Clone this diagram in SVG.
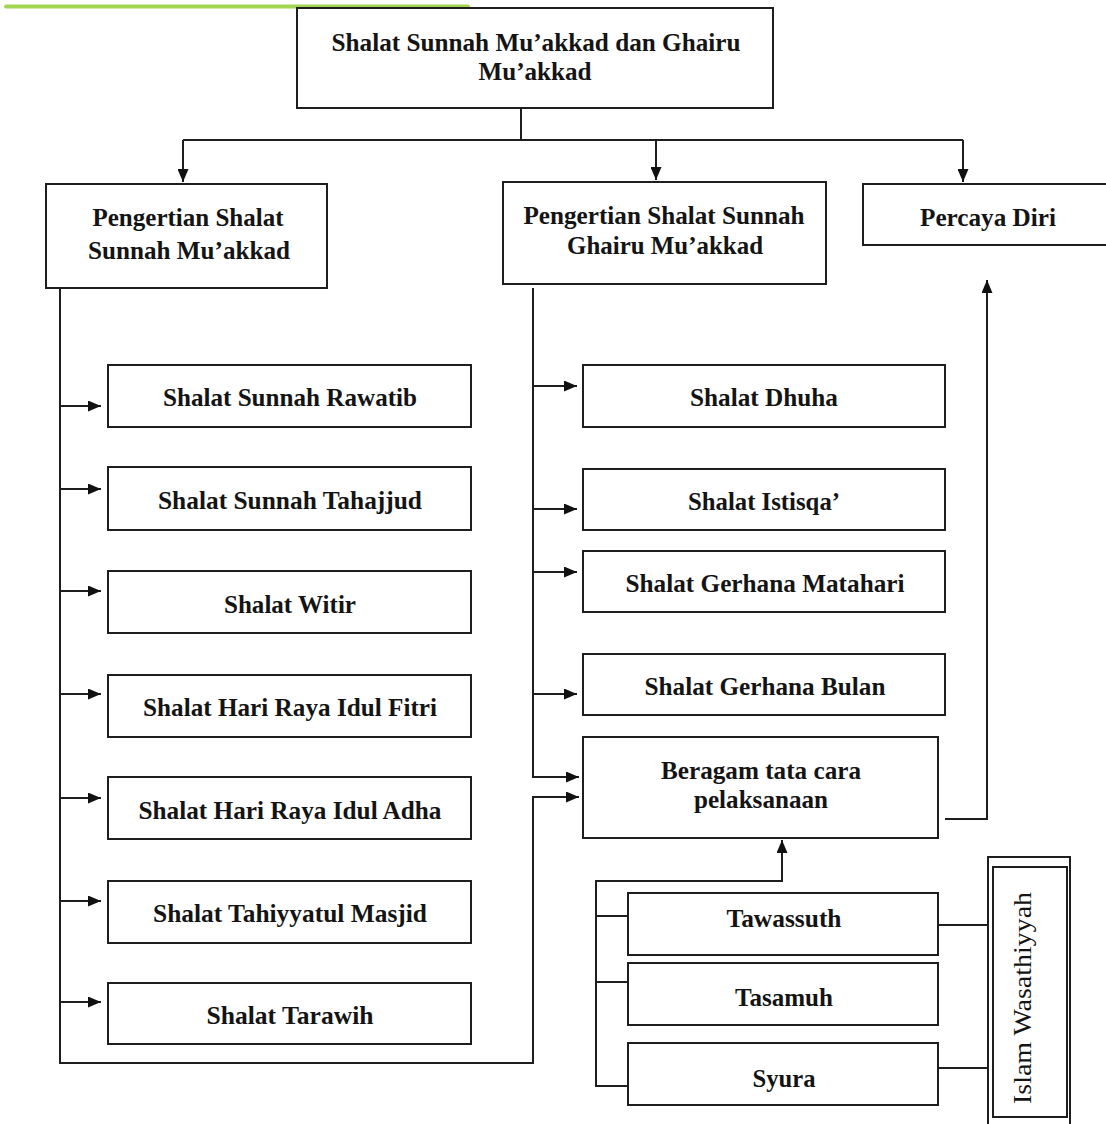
<svg xmlns="http://www.w3.org/2000/svg" width="1106" height="1124" viewBox="0 0 1106 1124">
<style>
.box{fill:#fff;stroke:#1e1e1e;stroke-width:2}
.t{font-family:"Liberation Serif","Times New Roman",serif;font-weight:bold;font-size:26px;fill:#141414;text-anchor:middle}
.r{font-family:"Liberation Serif","Times New Roman",serif;font-weight:normal;font-size:25px;fill:#141414;text-anchor:middle}
.c{fill:none;stroke:#1e1e1e;stroke-width:2}
</style>
<defs>
<marker id="ah" markerUnits="userSpaceOnUse" markerWidth="13" markerHeight="11" refX="13" refY="5.5" orient="auto">
<path d="M0,0 L13,5.5 L0,11 Z" fill="#111"/>
</marker>
</defs>
<rect width="1106" height="1124" fill="#fff"/>
<line x1="6" y1="6.5" x2="468" y2="6.5" stroke="#a2d651" stroke-width="4" stroke-linecap="round"/>

<g id="connectors">
<path class="c" d="M521,108 V140 M183,140 H963"/>
<path class="c" d="M183,140 V182" marker-end="url(#ah)"/>
<path class="c" d="M656,140 V180" marker-end="url(#ah)"/>
<path class="c" d="M963,140 V182" marker-end="url(#ah)"/>
<path class="c" d="M60,288 V1063 H533 V797 H579" marker-end="url(#ah)"/>
<path class="c" d="M60,406 H101" marker-end="url(#ah)"/>
<path class="c" d="M60,489 H101" marker-end="url(#ah)"/>
<path class="c" d="M60,591 H101" marker-end="url(#ah)"/>
<path class="c" d="M60,694 H101" marker-end="url(#ah)"/>
<path class="c" d="M60,798 H101" marker-end="url(#ah)"/>
<path class="c" d="M60,901 H101" marker-end="url(#ah)"/>
<path class="c" d="M60,1002 H101" marker-end="url(#ah)"/>
<path class="c" d="M533,288 V777 H579" marker-end="url(#ah)"/>
<path class="c" d="M533,386 H577" marker-end="url(#ah)"/>
<path class="c" d="M533,509 H577" marker-end="url(#ah)"/>
<path class="c" d="M533,572 H577" marker-end="url(#ah)"/>
<path class="c" d="M533,694 H577" marker-end="url(#ah)"/>
<path class="c" d="M945,819 H987 V280" marker-end="url(#ah)"/>
<path class="c" d="M628,1086 H596 V881 H782 V840" marker-end="url(#ah)"/>
<path class="c" d="M596,916 H628 M596,982 H628"/>
<path class="c" d="M938,925 H988 M938,1068 H988"/>
</g>

<g id="n-root">
<rect class="box" x="297" y="8" width="476" height="100"/>
<text class="t" x="536" y="51" textLength="409" lengthAdjust="spacingAndGlyphs">Shalat Sunnah Mu’akkad dan Ghairu</text>
<text class="t" x="535" y="80" textLength="113" lengthAdjust="spacingAndGlyphs">Mu’akkad</text>
</g>

<g id="n-pengertian-muakkad">
<rect class="box" x="46" y="184" width="281" height="104"/>
<text class="t" x="188" y="226" textLength="191" lengthAdjust="spacingAndGlyphs">Pengertian Shalat</text>
<text class="t" x="189" y="259" textLength="202" lengthAdjust="spacingAndGlyphs">Sunnah Mu’akkad</text>
</g>

<g id="n-pengertian-ghairu">
<rect class="box" x="503" y="182" width="323" height="102"/>
<text class="t" x="664" y="224" textLength="281" lengthAdjust="spacingAndGlyphs">Pengertian Shalat Sunnah</text>
<text class="t" x="665" y="254" textLength="196" lengthAdjust="spacingAndGlyphs">Ghairu Mu’akkad</text>
</g>

<g id="n-percaya-diri">
<rect class="box" x="863" y="184" width="260" height="61"/>
<text class="t" x="988" y="226" textLength="136" lengthAdjust="spacingAndGlyphs">Percaya Diri</text>
</g>

<g id="n-rawatib">
<rect class="box" x="108" y="365" width="363" height="62"/>
<text class="t" x="290" y="406" textLength="254" lengthAdjust="spacingAndGlyphs">Shalat Sunnah Rawatib</text>
</g>
<g id="n-tahajjud">
<rect class="box" x="108" y="467" width="363" height="63"/>
<text class="t" x="290" y="509" textLength="264" lengthAdjust="spacingAndGlyphs">Shalat Sunnah Tahajjud</text>
</g>
<g id="n-witir">
<rect class="box" x="108" y="571" width="363" height="62"/>
<text class="t" x="290" y="613" textLength="132" lengthAdjust="spacingAndGlyphs">Shalat Witir</text>
</g>
<g id="n-idul-fitri">
<rect class="box" x="108" y="675" width="363" height="62"/>
<text class="t" x="290" y="716" textLength="294" lengthAdjust="spacingAndGlyphs">Shalat Hari Raya Idul Fitri</text>
</g>
<g id="n-idul-adha">
<rect class="box" x="108" y="777" width="363" height="62"/>
<text class="t" x="290" y="819" textLength="303" lengthAdjust="spacingAndGlyphs">Shalat Hari Raya Idul Adha</text>
</g>
<g id="n-tahiyyatul">
<rect class="box" x="108" y="881" width="363" height="62"/>
<text class="t" x="290" y="922" textLength="274" lengthAdjust="spacingAndGlyphs">Shalat Tahiyyatul Masjid</text>
</g>
<g id="n-tarawih">
<rect class="box" x="108" y="983" width="363" height="61"/>
<text class="t" x="290" y="1024" textLength="167" lengthAdjust="spacingAndGlyphs">Shalat Tarawih</text>
</g>

<g id="n-dhuha">
<rect class="box" x="583" y="365" width="362" height="62"/>
<text class="t" x="764" y="406" textLength="148" lengthAdjust="spacingAndGlyphs">Shalat Dhuha</text>
</g>
<g id="n-istisqa">
<rect class="box" x="583" y="469" width="362" height="61"/>
<text class="t" x="764" y="510" textLength="152" lengthAdjust="spacingAndGlyphs">Shalat Istisqa’</text>
</g>
<g id="n-gerhana-matahari">
<rect class="box" x="583" y="551" width="362" height="61"/>
<text class="t" x="765" y="592" textLength="279" lengthAdjust="spacingAndGlyphs">Shalat Gerhana Matahari</text>
</g>
<g id="n-gerhana-bulan">
<rect class="box" x="583" y="654" width="362" height="61"/>
<text class="t" x="765" y="695" textLength="241" lengthAdjust="spacingAndGlyphs">Shalat Gerhana Bulan</text>
</g>
<g id="n-beragam">
<rect class="box" x="583" y="737" width="355" height="101"/>
<text class="t" x="761" y="779" textLength="200" lengthAdjust="spacingAndGlyphs">Beragam tata cara</text>
<text class="t" x="761" y="808" textLength="134" lengthAdjust="spacingAndGlyphs">pelaksanaan</text>
</g>

<g id="n-tawassuth">
<rect class="box" x="628" y="893" width="310" height="62"/>
<text class="t" x="784" y="927" textLength="115" lengthAdjust="spacingAndGlyphs">Tawassuth</text>
</g>
<g id="n-tasamuh">
<rect class="box" x="628" y="963" width="310" height="62"/>
<text class="t" x="784" y="1006" textLength="98" lengthAdjust="spacingAndGlyphs">Tasamuh</text>
</g>
<g id="n-syura">
<rect class="box" x="628" y="1043" width="310" height="62"/>
<text class="t" x="784" y="1087" textLength="63" lengthAdjust="spacingAndGlyphs">Syura</text>
</g>

<g id="n-islam-wasathiyyah">
<rect class="box" x="988" y="857" width="82" height="290"/>
<rect class="box" x="993" y="867" width="74" height="250"/>
<text class="r" transform="translate(1031,998) rotate(-90)" x="0" y="0" textLength="212" lengthAdjust="spacingAndGlyphs">Islam  Wasathiyyah</text>
</g>
</svg>
